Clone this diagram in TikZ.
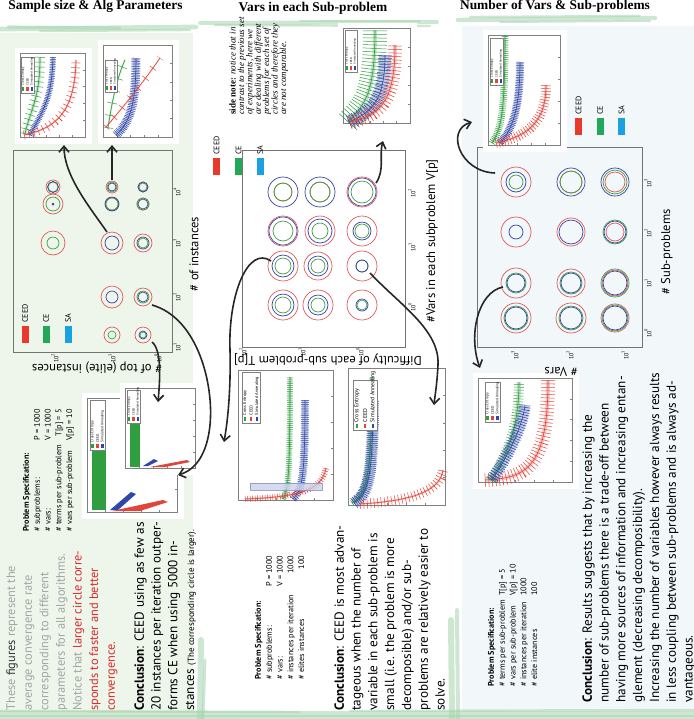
\documentclass[tikz,border=0pt]{standalone}
\usepackage{fontspec}
\setmainfont{PT Sans}
\newfontfamily\headserif{Liberation Serif}
\usetikzlibrary{arrows.meta}
\definecolor{ceedred}{HTML}{E8392C}
\definecolor{cegreen}{HTML}{22A85A}
\definecolor{sablue}{HTML}{1BA0E2}
\definecolor{ringred}{HTML}{E05858}
\definecolor{ringgreen}{HTML}{3DA040}
\definecolor{ringblue}{HTML}{3A3FA6}
\definecolor{plotgreen}{HTML}{2E9E3E}
\definecolor{plotblue}{HTML}{2F47A8}
\definecolor{plotred}{HTML}{E2443A}
\definecolor{leftbg}{HTML}{EEF6EC}
\definecolor{rightbg}{HTML}{F2F7FA}
\definecolor{brush}{HTML}{A6D4AE}
\definecolor{fadetext}{HTML}{A4A4A4}
\definecolor{notered}{HTML}{D92A28}
\tikzset{
  ring/.style={line width=0.35pt},
  cframe/.style={draw=black!55, line width=0.35pt},
  pframe/.style={draw=black!50, line width=0.25pt},
  pane/.style={fill=white},
  legbox/.style={draw=black!50, fill=white, line width=0.2pt},
  legtext/.style={rotate=90, anchor=west, inner sep=0.2pt},
  trace/.style n args={4}{draw=#1, line width=0.3pt,
    preaction={draw=#1, line width=#2, opacity=0.28},
    postaction={draw=#1, line width=#3, dash pattern=on 0.25pt off #4}},
  pointer/.style={draw=black!85, line width=0.8pt, -{Straight Barb[length=3pt,width=5pt]}},
  headline/.style={font=\headserif\bfseries\fontsize{6.7}{7}\selectfont, inner sep=0pt, anchor=base},
  textblock/.style={rotate=90, anchor=north west, inner sep=0pt, align=left, font=\fontsize{6.6}{8.4}\selectfont},
  specblock/.style={rotate=90, anchor=north west, inner sep=0pt, font=\fontsize{4.1}{5.4}\selectfont},
  notetext/.style={rotate=90, anchor=north west, inner sep=0pt, align=left, font=\headserif\itshape\fontsize{4.5}{4.2}\selectfont},
  axislabel/.style={inner sep=0pt, font=\fontsize{6.3}{7}\selectfont},
  ticklabel/.style={rotate=90, inner sep=0pt, font=\fontsize{3}{3}\selectfont},
  legswatch/.style={minimum width=3.5pt, minimum height=8.5pt, inner sep=0pt},
  leglabel/.style={rotate=90, anchor=west, inner sep=0pt, font=\fontsize{4}{4}\selectfont},
  brushstroke/.style={draw=brush, line cap=round, opacity=0.55}
}
\begin{document}
\begin{tikzpicture}[x=0.5pt,y=-0.5pt]
  \useasboundingbox (0,0) rectangle (694,719);

  \fill[leftbg] (0,33) rectangle (193,712);
  \fill[rightbg] (462,26) rectangle (694,712);

  \foreach \xa/\ya/\xb/\yb/\w in {
    0/29/196/27/2.4pt,
    8/27/120/28/1.6pt,
    40/31/190/30/1.2pt,
    200/23/437/22/2pt,
    215/25/430/26/1.2pt,
    300/21/420/21/1pt,
    458/20/655/18/2.2pt,
    470/17/640/16/1.2pt,
    500/22/650/21/1pt,
    0/714/694/714/3pt,
    0/711/300/712/1.2pt,
    350/711/694/710/1.2pt,
    0/717/694/717/2pt,
    201/640/200/719/3pt,
    205/660/203/719/1.5pt,
    451/620/452/719/3pt,
    457/610/458/719/2pt%
  }{
    \draw[brushstroke, line width=\w] (\xa,\ya) -- (\xb,\yb);
  }

  \node[headline] (headLeft) at (95.5,9) {Sample size \& Alg Parameters};
  \node[headline] (headMid) at (313,11.5) {Vars in each Sub-problem};
  \node[headline] (headRight) at (555,9) {Number of Vars \& Sub-problems};

  \draw[cframe] (13,150) rectangle (172,352);
  \draw[cframe] (242,150) rectangle (405,347);
  \draw[cframe] (477,147) rectangle (642,347);

  \foreach \tx/\ty/\te [count=\i] in {
    177/192/4, 177/243/3, 177/297/2, 177/347/1,
    55/358/2, 112/358/1, 158/358/0,
    412/193/2, 412/247/1, 412/307/0,
    243/352/2, 302/352/1, 360/352/0,
    648/183/3, 648/233/2, 648/283/1, 648/333/0,
    515/355/3, 570/355/2, 625/355/1%
  }{
    \node[ticklabel] (tick\i) at (\tx,\ty) {10\textsuperscript{\te}};
  }

  \foreach \cx/\cy/\r in {
    53/187/7, 112/187/6, 143/187/5, 53/204/10, 112/204/6.5, 143/204/6,
    53/243/12, 112/243/11, 143/243/9, 112/297/11, 143/297/9, 112/335/8, 143/335/8,
    283/192/9, 320/192/10, 362/192/15, 283/231/15, 320/231/15, 362/231/15,
    283/266/15, 318/266/14, 362/266/15, 283/305/15, 318/305/15, 362/305/15,
    516/182/15, 571/182/11, 615/182/10, 516/232/15, 571/232/14, 615/232/9,
    516/283/15, 571/283/14, 615/283/13, 516/318/15, 571/318/15, 615/318/14%
  }{
    \draw[ring, draw=ringred] (\cx,\cy) circle (\r*0.5pt);
  }
  \foreach \cx/\cy/\r in {
    53/187/5, 112/187/5, 143/187/4, 53/204/7, 112/204/6, 143/204/6,
    53/243/6, 143/243/5, 143/297/6, 112/335/4, 143/335/3,
    283/192/9, 320/192/10, 362/192/11, 283/231/10, 320/231/8, 362/231/7,
    283/266/8, 318/266/7, 362/266/6, 283/305/8, 318/305/7, 362/305/5,
    516/182/7, 571/182/11, 615/182/12, 615/232/12,
    516/283/10, 571/283/11, 615/283/14, 516/318/12, 571/318/12, 615/318/13%
  }{
    \draw[ring, draw=ringgreen] (\cx,\cy) circle (\r*0.5pt);
  }
  \foreach \cx/\cy/\r in {
    53/187/5.5, 112/187/4, 143/187/5, 53/204/1, 112/204/7, 143/204/5,
    112/243/7, 143/243/6, 112/297/6, 143/297/5, 143/335/4,
    283/192/15, 320/192/15, 362/192/14, 283/231/14, 320/231/12, 362/231/9,
    283/266/11, 318/266/10, 362/266/6, 283/305/11, 318/305/10, 362/305/6,
    516/182/10, 571/182/14, 615/182/14, 516/232/7, 571/232/12, 615/232/11,
    516/283/9, 571/283/10, 615/283/12, 516/318/11, 571/318/11, 615/318/12%
  }{
    \draw[ring, draw=ringblue] (\cx,\cy) circle (\r*0.5pt);
  }

  \foreach \xa/\ya/\xb/\yb in {
    20/53/85/137,
    103/45/172/137,
    87/398/177/512,
    125/388/195/468,
    343/28/410/123,
    238/370/333/500,
    348/368/445/505,
    488/35/560/145,
    478/378/572/482%
  }{
    \fill[pane] (\xa-5,\ya-5) rectangle (\xb+7,\yb+7);
    \draw[pframe] (\xa,\ya) rectangle (\xb,\yb);
    \foreach \t in {0.2,0.4,0.6,0.8}{
      \draw[pframe] (\xa+\xb*\t-\xa*\t,\yb) -- ++(0,-2);
      \draw[pframe] (\xb,\ya+\yb*\t-\ya*\t) -- ++(-2,0);
    }
  }

  % left panel plots
  \draw[trace={plotgreen}{1.5pt}{5pt}{2.2pt}] (25,134) .. controls (30,110) and (40,100) .. (40,57);
  \draw[trace={plotblue}{2pt}{3pt}{0.6pt}] (30,135) .. controls (42,112) and (52,100) .. (53,57);
  \draw[trace={plotred}{1pt}{4.5pt}{2.2pt}] (24,135) .. controls (58,128) and (75,110) .. (76,60);
  \draw[trace={plotgreen}{0.8pt}{5pt}{6pt}] (108,128) .. controls (112,100) and (118,75) .. (125,60);
  \draw[trace={plotblue}{3pt}{4.5pt}{0.6pt}] (116,135) .. controls (130,122) and (136,105) .. (136,58);
  \draw[trace={plotred}{0.6pt}{4pt}{6pt}] (106,127) .. controls (125,105) and (145,80) .. (160,58);
  \fill[plotgreen] (92,440) rectangle (106,510);
  \fill[plotblue] (110,510) -- (131,492) -- (136,494) -- (118,510) -- cycle;
  \fill[plotred] (112,511) -- (163,500) -- (168,502) -- (140,511) -- cycle;
  \fill[plotgreen] (130,423) rectangle (140,467);
  \fill[plotblue] (143,466) -- (154,459) -- (158,461) -- (148,466) -- cycle;
  \fill[plotred] (150,467) -- (187,460) -- (190,462) -- (165,467) -- cycle;

  % middle panel plots
  \draw[trace={plotgreen}{2pt}{12pt}{1.5pt}] (348,122) .. controls (362,106) and (375,100) .. (375,30);
  \draw[trace={plotblue}{6pt}{7pt}{1.2pt}] (349,122) .. controls (372,112) and (385,100) .. (385,55);
  \draw[trace={plotred}{2pt}{7pt}{1.5pt}] (350,122) .. controls (378,115) and (395,105) .. (395,45);
  \draw[trace={plotgreen}{1.5pt}{3pt}{0.7pt}] (283,499) .. controls (288,490) and (290,480) .. (290,377);
  \draw[trace={plotblue}{3pt}{4pt}{0.7pt}] (293,499) .. controls (302,490) and (305,480) .. (305,400);
  \draw[trace={plotred}{1pt}{3pt}{1pt}] (245,499) .. controls (300,497) and (322,490) .. (326,468);
  \filldraw[fill=plotblue!25, draw=plotblue!60, line width=0.3pt, opacity=0.8] (250,483) rectangle (322,490);
  \draw[trace={plotgreen}{1.5pt}{3pt}{0.7pt}] (352,503) .. controls (365,495) and (372,485) .. (372,377);
  \draw[trace={plotblue}{5pt}{6pt}{0.7pt}] (354,503) .. controls (366,495) and (373,485) .. (373,400);
  \draw[trace={plotred}{1pt}{5pt}{1.5pt}] (360,504) .. controls (410,501) and (440,492) .. (443,470);

  % right panel plots
  \draw[trace={plotgreen}{1.5pt}{3.5pt}{0.7pt}] (492,143) .. controls (500,130) and (505,120) .. (505,35);
  \draw[trace={plotblue}{3pt}{4pt}{0.6pt}] (500,143) .. controls (512,130) and (520,110) .. (520,62);
  \draw[trace={plotred}{1.5pt}{5pt}{1.2pt}] (496,143) .. controls (530,136) and (546,120) .. (546,85);
  \draw[trace={plotred}{2pt}{7pt}{1.5pt}] (485,480) .. controls (525,478) and (548,470) .. (548,380);
  \draw[trace={plotgreen}{2pt}{5pt}{1.2pt}] (490,480) .. controls (505,460) and (519,430) .. (519,382);
  \draw[trace={plotblue}{5pt}{6pt}{1pt}] (492,480) .. controls (505,460) and (522,430) .. (525,405);

  \foreach \lx/\ly/\lw/\lh [count=\i] in {
    21/93/13/36, 105/92/12/32, 90/450/15/50, 127/423/13/33,
    345/72/12/42, 242/423/18/51, 353/430/24/50,
    490/85/13/47, 485/422/15/40%
  }{
    \draw[legbox] (\lx,\ly) rectangle (\lx+\lw,\ly-\lh);
    \pgfmathsetmacro\fs{\lw*0.12}
    \foreach \k/\col/\nm in {0/plotgreen/Cross Entropy, 1/plotred/CEED, 2/plotblue/Simulated Annealing}{
      \pgfmathsetmacro\ex{\lx+\lw*(2*\k+1)/6}
      \fill[\col] (\ex-1.3,\ly-2) rectangle (\ex+1.3,\ly-6);
      \node[legtext, font=\fontsize{\fs}{\fs}\selectfont] (leg\i-\k) at (\ex,\ly-7) {\nm};
    }
  }

  \foreach \lx/\ly/\lab/\col/\id in {
    25/334.5/CEED/ceedred/L1, 46/334.5/CE/cegreen/L2, 68/334.5/SA/sablue/L3,
    216.5/166.5/CEED/ceedred/M1, 238.5/166.5/CE/cegreen/M2, 260/166.5/SA/sablue/M3,
    578.5/126.5/CEED/ceedred/R1, 600/126.5/CE/cegreen/R2, 621.5/126.5/SA/sablue/R3%
  }{
    \node[legswatch, fill=\col] (sw\id) at (\lx,\ly) {};
    \node[leglabel] (lab\id) at (\lx,\ly-11.5) {\lab};
  }

  \node[axislabel, rotate=180] (ylabLeft) at (97,368) {\# of top (elite) instances};
  \node[axislabel, rotate=90] (xlabLeft) at (194,254) {\# of instances};
  \node[axislabel, rotate=180] (ylabMid) at (328,360) {Difficulty of each sub-problem T[p]};
  \node[axislabel, rotate=90] (xlabMid) at (432,241) {\#Vars in each subproblem V[p]};
  \node[axislabel, rotate=90] (xlabRight) at (667,252) {\# Sub-problems};
  \node[axislabel, rotate=180] (ylabRight) at (561,372) {\# Vars};

  \foreach \nm/\x/\y in {
    ringL1/107/232, tipL1/64/145,
    ringL2/112/180, tipL2/112/145,
    ringL3/152/342, tipL3/158/402,
    ringL4/152/305, tipL4/178/475,
    ringM1/376/183, tipM1/383/141,
    ringM2/271/261, tipM2/224/442,
    ringM3/370/273, tipM3/434/405,
    ringR1/495/173, tipR1/472/122,
    ringR2/503/287, tipR2/480/368%
  }{
    \coordinate (\nm) at (\x,\y);
  }
  \draw[pointer] (ringL1) .. controls (88,205) and (64,175) .. (tipL1);
  \draw[pointer] (ringL2) -- (tipL2);
  \draw[pointer] (ringL3) .. controls (162,350) and (160,380) .. (tipL3);
  \draw[pointer] (ringL4) .. controls (198,318) and (214,385) .. (210,425) .. controls (207,455) and (195,470) .. (tipL4);
  \draw[pointer] (ringM1) .. controls (385,170) and (379,155) .. (tipM1);
  \draw[pointer] (ringM2) .. controls (248,245) and (228,295) .. (230,350) .. controls (231,395) and (227,425) .. (tipM2);
  \draw[pointer] (ringM3) .. controls (400,305) and (440,330) .. (438,365) .. controls (437,385) and (435,395) .. (tipM3);
  \draw[pointer] (ringR1) .. controls (460,172) and (445,130) .. (tipR1);
  \draw[pointer] (ringR2) .. controls (478,292) and (468,335) .. (tipR2);

  \node[notetext] (sideNote) at (229,115) {\textbf{\upshape side note:} notice that in\\contrast to the previous set\\of experiments, here we\\are dealing with different\\problems for each set of\\circles and therefore they\\are not comparable.};

  \node[textblock, text=fadetext, font=\fontsize{6.2}{8.3}\selectfont] (noteLeft) at (6,711) {These {\color{black!80}figures} represent the\\average convergence rate\\corresponding to different\\parameters for all algorithms.\\Notice that {\color{notered}larger circle corre-}\\{\color{notered}sponds to faster and better}\\{\color{notered}convergence.}};
  \node[textblock] (conclLeft) at (134,711) {\textbf{Conclusion}: CEED using as few as\\20 instances per iteration outper-\\forms CE when using 5000 in-\\stances {\fontsize{4.5}{5}\selectfont (The corresponding circle is larger).}};
  \node[textblock] (conclMid) at (334,711) {\textbf{Conclusion}: CEED is most advan-\\tageous when the number of\\variable in each sub-problem is\\small (i.e. the problem is more\\decomposible) and/or sub-\\problems are relatively easier to\\solve.};
  \node[textblock] (conclRight) at (582,703) {\textbf{Conclusion}: Results suggests that by increasing the\\number of sub-problems there is a trade-off between\\having more sources of information and increasing entan-\\glement (decreasing decomposibility).\\Increasing the number of variables however always results\\in less coupling between sub-problems and is always ad-\\vantageous.};

  \node[specblock] (specLeft) at (21,532) {\begin{tabular}{@{}l@{\hspace{2pt}}r@{}}
    \multicolumn{2}{@{}l@{}}{\bfseries Problem Specification:}\\
    \# subproblems: & P = 1000\\
    \# vars: & V = 1000\\
    \# terms per sub-problem & T[p] = 5\\
    \# vars per sub-problem & V[p] = 10
  \end{tabular}};
  \node[specblock] (specMid) at (253,680) {\begin{tabular}{@{}l@{\hspace{4pt}}r@{}}
    \multicolumn{2}{@{}l@{}}{\bfseries Problem Specification:}\\
    \# subproblems: & P = 1000\\
    \# vars: & V = 1000\\
    \# instances per iteration & 1000\\
    \# elites instances & 100
  \end{tabular}};
  \node[specblock] (specRight) at (486,687) {\begin{tabular}{@{}l@{\hspace{2pt}}l@{}}
    \multicolumn{2}{@{}l@{}}{\bfseries Problem Specification:}\\
    \# terms per sub-problem & T[p] = 5\\
    \# vars per sub-problem & V[p] = 10\\
    \# instances per iteration & 1000\\
    \# elite instances & 100
  \end{tabular}};
\end{tikzpicture}
\end{document}
